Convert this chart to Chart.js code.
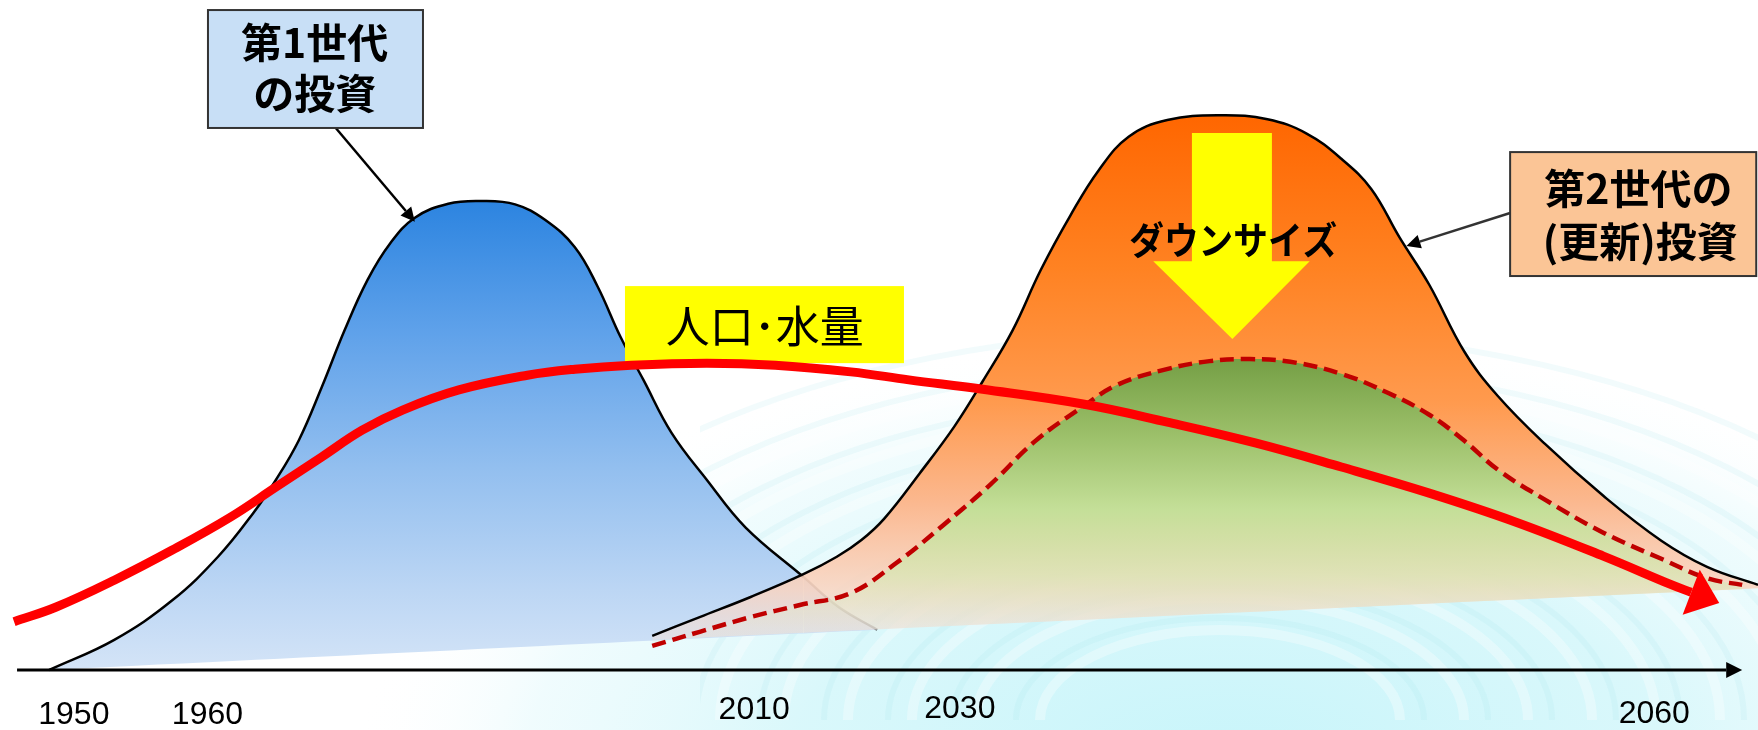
<!DOCTYPE html>
<html lang="ja">
<head>
<meta charset="utf-8">
<title>第1世代・第2世代の投資</title>
<script src="https://cdn.jsdelivr.net/npm/chart.js@4.4.0/dist/chart.umd.min.js"></script>
<style>
  html, body { margin: 0; padding: 0; background: #fff; }
  #wrap { width: 1758px; height: 730px; }
</style>
</head>
<body>
<div id="wrap"><canvas id="c" width="1758" height="730"></canvas></div>
<script>
// ---- データ: x = 時間軸上の位置 (0-100), y = 相対量 (0-100) ----
const firstGen = [
  [2.8,0],[6.5,4.5],[9.8,10.4],[12.4,16.9],[14.4,23.4],[15.7,28.4],[17.0,34.3],
  [18.3,42.2],[19.6,50.7],[20.9,58.2],[22.2,63.7],[23.6,67.5],[25.5,69.6],[27.4,70.0],
  [29.3,69.5],[31.0,67.2],[32.7,63.1],[34.0,57.2],[35.3,49.7],[36.6,43.3],[38.2,35.4],
  [40.2,28.4],[42.4,21.3],[45.7,13.9],[47.7,9.4],[49.9,6.0]
];
const firstGenBase = [[2.8,0],[49.9,6.0]];

const secondGen = [
  [37.1,5.1],[39.8,7.9],[42.7,10.9],[45.7,14.3],[47.6,16.9],[49.0,19.4],[50.3,22.6],
  [52.3,29.3],[54.3,36.4],[55.9,43.1],[57.6,50.7],[59.2,59.7],[60.9,67.9],[62.5,74.6],
  [64.2,79.6],[66.4,82.1],[69.5,82.8],[72.1,82.2],[74.3,80.1],[76.3,76.3],[78.0,71.8],
  [79.6,64.6],[81.3,57.5],[83.3,47.5],[85.2,40.9],[87.9,33.7],[91.2,26.0],[94.5,19.3],
  [97.1,15.4],[100,12.7]
];
const secondGenBase = [[37.1,4.5],[100,12.2]];

const downsized = [
  [37.1,3.6],[39.8,5.7],[42.7,7.9],[45.5,9.7],[48.4,11.5],[51.0,16.0],[53.6,21.5],
  [56.3,27.6],[58.9,34.2],[61.6,39.3],[63.5,42.5],[66.2,44.8],[68.8,46.1],[71.1,46.4],
  [73.4,46.0],[76.3,44.2],[79.0,41.3],[81.3,38.1],[83.3,34.2],[85.2,29.9],[87.9,25.4],
  [91.2,20.5],[94.5,16.6],[97.1,13.7],[99.1,12.7]
];

const population = [
  [0.8,7.2],[3.2,9.4],[6.5,13.4],[9.8,17.9],[13.1,22.8],[15.7,27.3],[18.3,31.8],
  [20.6,35.8],[22.9,38.8],[26.1,41.8],[30.0,44.0],[32.7,44.9],[35.9,45.5],[40.2,45.8],
  [44.1,45.5],[48.4,44.5],[51.7,43.3],[55.9,41.9],[61.6,39.7],[66.4,37.0],[71.4,33.9],
  [76.3,30.3],[81.3,26.4],[86.2,22.1],[91.2,17.0],[95.1,12.7],[96.2,11.6]
];

const tickPos    = [4.2, 11.8, 42.9, 54.6, 94.1];
const tickLabels = ['1950', '1960', '2010', '2030', '2060'];

const JP = '"Noto Sans CJK JP", "Noto Sans", sans-serif';

// ---- 縦方向グラデーション (y値で色位置を指定) ----
function vGrad(stops) {
  return (context) => {
    const chart = context.chart;
    if (!chart.chartArea) return 'transparent';
    const sy = chart.scales.y;
    const g = chart.ctx.createLinearGradient(0, 0, 0, chart.height);
    stops.forEach(([v, col]) => {
      const t = Math.min(1, Math.max(0, sy.getPixelForValue(v) / chart.height));
      g.addColorStop(t, col);
    });
    return g;
  };
}

const toXY = arr => arr.map(([x, y]) => ({ x, y }));

// ---- 背景 (水面のイメージ) ----
const waterBg = {
  id: 'waterBg',
  beforeDraw(chart) {
    const { ctx, width, height } = chart;
    ctx.save();
    ctx.fillStyle = '#fff';
    ctx.fillRect(0, 0, width, height);

    ctx.save();
    ctx.translate(1230, 770);
    ctx.scale(2.0, 1);
    const g = ctx.createRadialGradient(0, 0, 0, 0, 0, 440);
    g.addColorStop(0, 'rgba(196,244,250,0.95)');
    g.addColorStop(0.5, 'rgba(208,246,250,0.8)');
    g.addColorStop(0.8, 'rgba(225,249,252,0.5)');
    g.addColorStop(1, 'rgba(255,255,255,0)');
    ctx.fillStyle = g;
    ctx.fillRect(-900, -900, 1800, 1800);
    ctx.restore();

    // 波紋 (右側のみ)
    ctx.beginPath();
    ctx.rect(700, 0, width - 700, height);
    ctx.clip();
    for (let r = 180; r <= 760; r += 64) {
      ctx.beginPath();
      ctx.ellipse(1220, 720, r, r * 0.5, 0, Math.PI, 2 * Math.PI);
      ctx.strokeStyle = 'rgba(255,255,255,0.32)';
      ctx.lineWidth = 10;
      ctx.stroke();
      ctx.beginPath();
      ctx.ellipse(1220, 720, r + 24, (r + 24) * 0.5, 0, Math.PI, 2 * Math.PI);
      ctx.strokeStyle = 'rgba(150,222,234,0.12)';
      ctx.lineWidth = 6;
      ctx.stroke();
    }
    ctx.restore();
  }
};

function arrowLine(ctx, x0, y0, x1, y1, len, half, w) {
  const a = Math.atan2(y1 - y0, x1 - x0);
  const bx = x1 - Math.cos(a) * len, by = y1 - Math.sin(a) * len;
  ctx.beginPath();
  ctx.moveTo(x0, y0);
  ctx.lineTo(bx, by);
  ctx.lineWidth = w;
  ctx.stroke();
  ctx.beginPath();
  ctx.moveTo(x1, y1);
  ctx.lineTo(bx - Math.sin(a) * half, by + Math.cos(a) * half);
  ctx.lineTo(bx + Math.sin(a) * half, by - Math.cos(a) * half);
  ctx.closePath();
  ctx.fill();
}

function labelBox(ctx, X, Y, b, fill) {
  ctx.fillStyle = fill;
  ctx.fillRect(X(b.x0), Y(b.y0), X(b.x1) - X(b.x0), Y(b.y1) - Y(b.y0));
  ctx.strokeStyle = '#333';
  ctx.lineWidth = 2;
  ctx.strokeRect(X(b.x0), Y(b.y0), X(b.x1) - X(b.x0), Y(b.y1) - Y(b.y0));
}

// ---- 注記・軸 ----
const notes = {
  id: 'notes',
  afterDatasetDraw(chart, args) {
    if (args.index !== 4) return;
    // 「人口・水量」ラベル (赤線の下)
    const { ctx } = chart;
    const X = v => chart.scales.x.getPixelForValue(v);
    const Y = v => chart.scales.y.getPixelForValue(v);
    ctx.save();
    ctx.fillStyle = '#ffff00';
    ctx.fillRect(X(35.55), Y(57.3), X(51.42) - X(35.55), Y(45.8) - Y(57.3));
    ctx.fillStyle = '#000';
    ctx.font = '44px ' + JP;
    ctx.textAlign = 'center';
    ctx.textBaseline = 'middle';
    ctx.fillText('人口･水量', X(43.5), Y(51.3), 214);
    ctx.restore();
  },
  afterDatasetsDraw(chart) {
    const { ctx } = chart;
    const X = v => chart.scales.x.getPixelForValue(v);
    const Y = v => chart.scales.y.getPixelForValue(v);
    ctx.save();

    // 赤線の矢じり
    const pts = chart.getDatasetMeta(5).data;
    const p1 = pts[pts.length - 1], p0 = pts[pts.length - 2];
    const a = Math.atan2(p1.y - p0.y, p1.x - p0.x);
    ctx.fillStyle = '#ff0000';
    ctx.beginPath();
    ctx.moveTo(p1.x + Math.cos(a) * 30, p1.y + Math.sin(a) * 30);
    ctx.lineTo(p1.x - Math.sin(a) * 24, p1.y + Math.cos(a) * 24);
    ctx.lineTo(p1.x + Math.sin(a) * 24, p1.y - Math.cos(a) * 24);
    ctx.closePath();
    ctx.fill();

    // ダウンサイズの矢印
    ctx.fillStyle = '#ffff00';
    ctx.beginPath();
    ctx.moveTo(X(67.8), Y(80.15));
    ctx.lineTo(X(72.35), Y(80.15));
    ctx.lineTo(X(72.35), Y(61.0));
    ctx.lineTo(X(74.5), Y(61.0));
    ctx.lineTo(X(70.1), Y(49.4));
    ctx.lineTo(X(65.6), Y(61.0));
    ctx.lineTo(X(67.8), Y(61.0));
    ctx.closePath();
    ctx.fill();
    ctx.fillStyle = '#000';
    ctx.font = 'bold 38px ' + JP;
    ctx.textAlign = 'center';
    ctx.textBaseline = 'middle';
    ctx.fillText('ダウンサイズ', X(70.15), Y(64.2), 208);

    // 横軸
    ctx.strokeStyle = '#000';
    ctx.fillStyle = '#000';
    arrowLine(ctx, X(0.97), Y(0), X(99.1), Y(0), 16, 8, 3);
    ctx.font = '32px "Liberation Sans", Arial, sans-serif';
    const raise = [0, 0, 5, 6, 1];
    tickPos.forEach((v, i) => {
      ctx.fillText(tickLabels[i], X(v), Y(0) + 45 - raise[i]);
    });

    // 第1世代の投資
    arrowLine(ctx, X(19.1), Y(80.9), X(23.6), Y(66.9), 14, 7, 2.5);
    labelBox(ctx, X, Y, { x0: 11.83, x1: 24.06, y0: 98.5, y1: 80.9 }, '#c8dff6');
    ctx.fillStyle = '#000';
    ctx.font = 'bold 41px ' + JP;
    ctx.fillText('第1世代', X(17.9), Y(93.6));
    ctx.fillText('の投資', X(17.9), Y(86.0));

    // 第2世代の(更新)投資
    arrowLine(ctx, X(85.9), Y(68.2), X(80.0), Y(63.3), 14, 7, 2.5);
    labelBox(ctx, X, Y, { x0: 85.9, x1: 99.9, y0: 77.3, y1: 58.8 }, '#fbc596');
    ctx.fillStyle = '#000';
    ctx.fillText('第2世代の', X(93.2), Y(71.9), 195);
    ctx.fillText('(更新)投資', X(93.3), Y(64.0), 212);

    ctx.restore();
  }
};

const line = (data, extra) => Object.assign({
  data: toXY(data),
  borderColor: '#000',
  borderWidth: 2.5,
  pointRadius: 0,
  tension: 0.4,
  clip: false,
  fill: false
}, extra);

new Chart(document.getElementById('c'), {
  type: 'line',
  data: {
    datasets: [
      line(firstGenBase, { borderWidth: 0, borderColor: 'transparent', order: 7 }),
      line(firstGen, {
        order: 6,
        fill: 0,
        backgroundColor: vGrad([[70, '#2c84e0'], [50, '#60a2ea'], [30, '#93bfef'], [12, '#bcd6f4'], [0, '#d4e4f7']]),
        segment: { borderColor: c => c.p0.parsed.x >= 45.6 ? 'rgba(50,50,50,0.6)' : '#000' }
      }),
      line(secondGenBase, { borderWidth: 0, borderColor: 'transparent', order: 5 }),
      line(secondGen, {
        order: 4,
        fill: 2,
        backgroundColor: vGrad([[83, '#ff6600'], [60, '#ff8222'], [40, '#ff9a4e'], [25, '#fbb88f'],
                                [12, 'rgba(250,212,192,0.85)'], [4, 'rgba(236,226,224,0.55)']])
      }),
      line(downsized, {
        order: 3,
        fill: 2,
        borderColor: '#c00000',
        borderWidth: 4.5,
        borderDash: [14, 7],
        backgroundColor: vGrad([[46, '#76a046'], [35, '#9cc06a'], [24, '#c4df98'],
                                [14, 'rgba(214,232,180,0.7)'], [6, 'rgba(230,232,215,0.25)']])
      }),
      line(population, { order: 1, borderColor: '#ff0000', borderWidth: 9 })
    ]
  },
  options: {
    responsive: false,
    animation: false,
    devicePixelRatio: 1,
    layout: { padding: { left: 0, right: 0, top: 0, bottom: 60 } },
    plugins: { legend: { display: false }, tooltip: { enabled: false } },
    scales: {
      x: { type: 'linear', min: 0, max: 100, display: false },
      y: { type: 'linear', min: 0, max: 100, display: false }
    }
  },
  plugins: [waterBg, notes]
});
</script>
</body>
</html>
